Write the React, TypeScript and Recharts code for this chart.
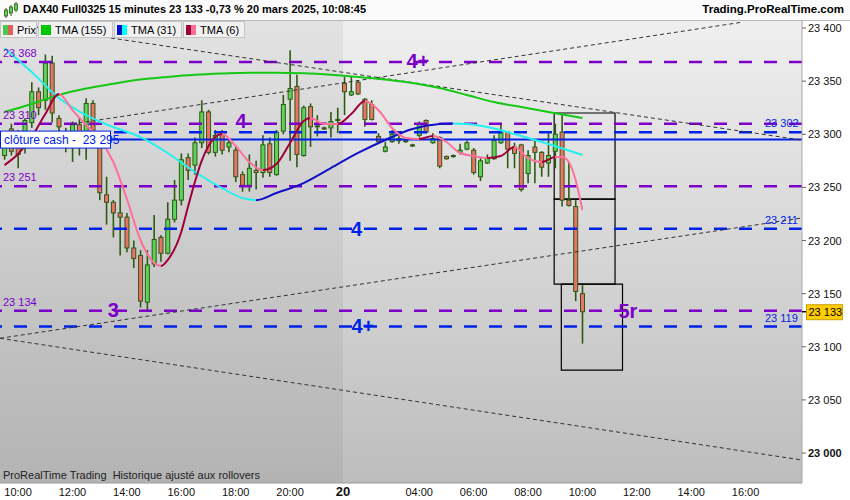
import React from 'react';
import { ComposedChart, Bar, Line, XAxis, YAxis, CartesianGrid, ReferenceLine, ReferenceArea, ReferenceDot } from 'recharts';

const FONT = '"Liberation Sans", Arial, sans-serif';
const PURPLE = '#7d00c8';
const BLUE = '#0022e8';
const WICK = '#2d5a12';
const UP = '#5dd35a';
const DOWN = '#ea7268';

// bar 0 = 10:00 on the 19th, first visible bar is 09:30
const FIRST_BAR = -2;

const opens = [
  23280, 23305, 23295, 23288, 23311, 23340, 23332, 23367, 23315, 23301,
  23298, 23309, 23295, 23329, 23290, 23243, 23236, 23226, 23222, 23193,
  23186, 23142, 23178, 23203, 23188, 23220, 23238, 23278, 23271, 23292,
  23321, 23283, 23300, 23288, 23285, 23262, 23252, 23266, 23264, 23291,
  23262, 23303, 23333, 23345, 23280, 23326, 23307, 23306, 23306, 23313,
  23348, 23337, 23349, 23333, 23328, 23298, 23284, 23293, 23296, 23294,
  23290, 23299, 23313, 23292, 23297, 23279, 23279, 23283, 23286, 23285,
  23260, 23273, 23277, 23292, 23302, 23288, 23290, 23263, 23288, 23283,
  23273, 23284, 23302, 23238, 23232, 23150,
];
const highs = [
  23302, 23310, 23304, 23315, 23349, 23344, 23375, 23374, 23318, 23306,
  23312, 23315, 23334, 23332, 23293, 23260, 23238, 23250, 23226, 23200,
  23191, 23191, 23224, 23205, 23236, 23257, 23282, 23282, 23297, 23332,
  23323, 23304, 23304, 23295, 23288, 23265, 23281, 23275, 23299, 23297,
  23304, 23337, 23379, 23356, 23327, 23329, 23318, 23307, 23321, 23325,
  23354, 23355, 23351, 23334, 23332, 23301, 23293, 23304, 23300, 23295,
  23291, 23312, 23314, 23301, 23298, 23280, 23281, 23291, 23294, 23287,
  23278, 23281, 23299, 23310, 23303, 23292, 23291, 23285, 23295, 23284,
  23301, 23310, 23319, 23274, 23238, 23158,
];
const lows = [
  23276, 23280, 23268, 23282, 23306, 23318, 23323, 23311, 23297, 23283,
  23274, 23280, 23276, 23293, 23238, 23215, 23203, 23186, 23189, 23174,
  23137, 23134, 23175, 23180, 23187, 23217, 23233, 23257, 23262, 23287,
  23281, 23279, 23281, 23283, 23255, 23246, 23246, 23248, 23259, 23260,
  23261, 23300, 23275, 23269, 23279, 23288, 23298, 23304, 23297, 23301,
  23318, 23336, 23337, 23307, 23313, 23292, 23283, 23292, 23291, 23292,
  23288, 23297, 23301, 23291, 23268, 23276, 23278, 23281, 23285, 23262,
  23256, 23272, 23276, 23291, 23268, 23268, 23246, 23254, 23254, 23260,
  23260, 23268, 23232, 23232, 23143, 23103,
];
const closes = [
  23295, 23284, 23281, 23313, 23340, 23325, 23367, 23320, 23307, 23290,
  23309, 23297, 23329, 23295, 23245, 23236, 23226, 23222, 23193, 23183,
  23143, 23177, 23201, 23188, 23220, 23238, 23276, 23266, 23292, 23321,
  23283, 23299, 23285, 23292, 23260, 23252, 23268, 23264, 23290, 23264,
  23302, 23328, 23343, 23281, 23325, 23307, 23308, 23305, 23312, 23314,
  23340, 23340, 23338, 23314, 23314, 23293, 23288, 23300, 23294, 23293,
  23289, 23310, 23302, 23296, 23270, 23277, 23280, 23285, 23292, 23264,
  23275, 23278, 23294, 23302, 23286, 23282, 23248, 23280, 23283, 23269,
  23280, 23300, 23238, 23233, 23152, 23133,
];

// moving averages as [bar, value]
const tma155 = [
  [-2, 23321], [2, 23328.5], [6, 23337], [10, 23343], [14, 23347.5], [18, 23351.5],
  [22, 23354], [26, 23356], [30, 23357.2], [34, 23358], [38, 23358], [42, 23357.4],
  [46, 23356], [50, 23354], [54, 23351.5], [58, 23348.3], [62, 23343.5], [66, 23337],
  [70, 23330.3], [74, 23325.6], [78, 23321], [83, 23315.3],
];
const tma31 = [
  [-2, 23381], [2, 23358.6], [6, 23334.1], [10, 23318.1], [14, 23306.8], [18, 23297.4],
  [22, 23282.4], [26, 23264.5], [30, 23249.4], [33, 23240], [35, 23238], [38, 23244.7],
  [42, 23254.1], [46, 23268.2], [50, 23282.4], [54, 23294.6], [58, 23305], [62, 23309.6],
  [64, 23310.1], [66, 23309.6], [70, 23305.4], [74, 23298.3], [78, 23290.8], [83, 23280.5],
];
const tma6 = [
  [-2, 23271], [0, 23281.4], [2, 23297.4], [4, 23319], [6, 23338], [8, 23322.8],
  [10, 23308.7], [12, 23295.5], [14, 23273.9], [16, 23239.1], [18, 23200.5], [20, 23178.8],
  [21, 23176], [22, 23181.6], [24, 23208], [25, 23232], [26, 23255], [27, 23275],
  [28, 23289], [30, 23300.2], [32, 23289], [34, 23273.9], [36, 23266.3], [38, 23272],
  [40, 23291.8], [42, 23312.5], [43, 23315.3], [45, 23309.6], [47, 23309.6], [49, 23319],
  [51, 23331.3], [53, 23322.8], [55, 23305.9], [57, 23296.5], [59, 23295.5], [61, 23298.3],
  [63, 23292.7], [65, 23282.4], [67, 23279.5], [69, 23277.6], [71, 23279.5], [73, 23288],
  [75, 23277.6], [77, 23273.9], [79, 23278.6], [80, 23278.6], [81, 23273.9], [82, 23257],
  [83, 23228.7],
];

const timeTicks = [0, 8, 16, 24, 32, 40, 47.8, 59, 67, 75, 83, 91, 99, 107];
const timeLabels = ['10:00', '12:00', '14:00', '16:00', '18:00', '20:00', '20', '04:00', '06:00', '08:00', '10:00', '12:00', '14:00', '16:00'];
const priceTicks = [23000, 23050, 23100, 23150, 23200, 23250, 23300, 23350, 23400];

const purpleLevels = [23368, 23310, 23251, 23134];
const blueLevels = [23302, 23211, 23119];
const cashClose = 23295;
const lastPrice = 23133;

// trend lines [x1, y1, x2, y2]
const trendLines = [
  [-2.66, 23406, 115.3, 23294.5],
  [7.9, 23309.6, 106.2, 23405.2],
  [-2.66, 23108, 115.3, 23221.2],
  [-2.66, 23108, 115.3, 22993.4],
];
// boxes [x1, x2, yTop, yBottom]
const boxes = [
  [78.85, 87.8, 23320, 23239],
  [78.85, 87.8, 23239, 23159],
  [79.9, 88.9, 23159, 23078],
];
// annotations [text, bar, price, colour]
const notes: [string, number, number, string][] = [
  ['4+', 58.8, 23369, PURPLE],
  ['4', 32.8, 23312.5, PURPLE],
  ['4', 49.8, 23211, BLUE],
  ['3', 14.0, 23134.6, PURPLE],
  ['4+', 50.7, 23119.5, BLUE],
  ['5r', 89.7, 23133.6, PURPLE],
];

const X_DOMAIN = [-2.66, 115.3];
const Y_DOMAIN = [22971.8, 23406.6];
const DAY_BREAK = 47.8;

const fmt = (v: number) => String(v).replace(/\B(?=(\d{3})+(?!\d))/g, ' ');

const rows: any[] = opens.map((o, k) => ({
  i: FIRST_BAR + k,
  open: o,
  high: highs[k],
  low: lows[k],
  close: closes[k],
}));
const put = (pts: number[][], key: string) => pts.forEach(([b, v]) => { rows[b - FIRST_BAR][key] = v; });
put(tma155, 'm155');
put(tma31, 'm31');
put(tma6, 'm6');

function toneStops(points: number[][], rise: string, fall: string) {
  const a = points[0][0];
  const b = points[points.length - 1][0];
  const out: { o: number; c: string }[] = [];
  for (let k = 0; k < points.length - 1; k++) {
    const c = points[k + 1][1] > points[k][1] ? rise : fall;
    out.push({ o: (points[k][0] - a) / (b - a), c }, { o: (points[k + 1][0] - a) / (b - a), c });
  }
  return out;
}

const Candle = (props: any) => {
  const { x, y, width, height, payload } = props;
  if (!payload || x == null || y == null) return null;
  const top = Math.min(y, y + height);
  const h = Math.abs(height);
  const { open, high, low, close } = payload;
  const span = high - low || 1;
  const toY = (v: number) => top + ((high - v) / span) * h;
  const cx = x + width / 2;
  const bTop = toY(Math.max(open, close));
  const bBot = toY(Math.min(open, close));
  return (
    <g>
      <line x1={cx} x2={cx} y1={top} y2={top + h} stroke={WICK} strokeWidth={1.6} />
      <rect x={cx - 2} y={bTop} width={4} height={Math.max(bBot - bTop, 1)} fill={close >= open ? UP : DOWN} stroke={WICK} strokeWidth={1} />
    </g>
  );
};

const TimeTick = (props: any) => {
  const { x, y, payload } = props;
  const k = timeTicks.indexOf(payload.value);
  const label = timeLabels[k] ?? '';
  const bold = label === '20';
  return (
    <text x={x} y={y + 13} textAnchor="middle" fontSize={bold ? 13 : 11} fontWeight={bold ? 'bold' : 'normal'} fontFamily={FONT} fill="#111">
      {label}
    </text>
  );
};

const PriceTick = (props: any) => {
  const { x, y, payload } = props;
  return (
    <text x={x} y={y + 4} textAnchor="start" fontSize={11} fontWeight={payload.value === 23000 ? 'bold' : 'normal'} fontFamily={FONT} fill="#111">
      {fmt(payload.value)}
    </text>
  );
};

const levelText = (text: string, color: string, side: 'left' | 'right') => (p: any) => (
  <text x={side === 'left' ? p.cx + 3 : p.cx - 37} y={p.cy - 5} fontSize={11} fontFamily={FONT} fill={color}>{text}</text>
);

const Swatch = ({ a, b }: { a: string; b: string }) => (
  <span style={{ display: 'inline-block', width: 10, height: 10, marginRight: 4, background: `linear-gradient(90deg, ${a} 50%, ${b} 50%)`, verticalAlign: -1 }} />
);

const legendItems = [
  { label: 'Prix', a: '#4cc94c', b: '#e0605c', w: 37 },
  { label: 'TMA (155)', a: '#00c800', b: '#00c800', w: 75 },
  { label: 'TMA (31)', a: '#0010d0', b: '#00ffff', w: 68 },
  { label: 'TMA (6)', a: '#a0003a', b: '#ff6f9a', w: 62 },
];

export default function App() {
  const stops31 = toneStops(tma31, '#1010c8', '#22f0f0');
  const stops6 = toneStops(tma6, '#a0003a', '#ff6f9a');
  return (
    <div style={{ position: 'absolute', left: 0, top: 0, width: 850, height: 500, background: '#fff', fontFamily: FONT, overflow: 'hidden' }}>
      <ComposedChart width={850} height={500} data={rows} margin={{ top: 21, right: 0, bottom: 0, left: 0 }}>
        <defs>
          <linearGradient id="plotBg" x1="0" y1="0" x2="0" y2="1">
            <stop offset="0%" stopColor="#efefef" />
            <stop offset="100%" stopColor="#bdbdbd" />
          </linearGradient>
          <linearGradient id="g31" x1="0" y1="0" x2="1" y2="0">
            {stops31.map((s, k) => <stop key={k} offset={s.o} stopColor={s.c} />)}
          </linearGradient>
          <linearGradient id="g6" x1="0" y1="0" x2="1" y2="0">
            {stops6.map((s, k) => <stop key={k} offset={s.o} stopColor={s.c} />)}
          </linearGradient>
        </defs>
        <CartesianGrid horizontal={false} vertical={false} fill="url(#plotBg)" fillOpacity={1} />
        <ReferenceArea x1={X_DOMAIN[0]} x2={DAY_BREAK} y1={Y_DOMAIN[0]} y2={Y_DOMAIN[1]} fill="#000" fillOpacity={0.05} stroke="none" zIndex={-90} />
        <XAxis dataKey="i" type="number" domain={X_DOMAIN} allowDataOverflow ticks={timeTicks} interval={0} tick={<TimeTick />} tickLine={false} tickSize={0} tickMargin={0} axisLine={{ stroke: '#9a9a9a' }} height={17} />
        <YAxis orientation="right" type="number" domain={Y_DOMAIN} allowDataOverflow ticks={priceTicks} interval={0} width={48} tickSize={4} tickMargin={2} tick={<PriceTick />} axisLine={{ stroke: '#a8a8a8' }} tickLine={{ stroke: '#666' }} />

        {purpleLevels.map((v) => (
          <ReferenceLine key={'p' + v} y={v} stroke={PURPLE} strokeWidth={2.5} strokeDasharray="13 12" />
        ))}
        {blueLevels.map((v) => (
          <ReferenceLine key={'b' + v} y={v} stroke={BLUE} strokeWidth={2.5} strokeDasharray="13 12" />
        ))}
        <ReferenceLine y={cashClose} stroke={BLUE} strokeWidth={2} />
        {trendLines.map((t, k) => (
          <ReferenceLine key={'t' + k} segment={[{ x: t[0], y: t[1] }, { x: t[2], y: t[3] }]} stroke="#333" strokeWidth={1} strokeDasharray="4 3" ifOverflow="visible" />
        ))}
        {boxes.map((b, k) => (
          <ReferenceArea key={'box' + k} x1={b[0]} x2={b[1]} y1={b[3]} y2={b[2]} fill="none" fillOpacity={0} stroke="#000" strokeWidth={1.2} />
        ))}

        <Bar dataKey={(d: any) => [d.low, d.high]} barSize={5} shape={<Candle />} isAnimationActive={false} />
        <Line dataKey="m155" type="monotone" stroke="#14c814" strokeWidth={2} dot={false} connectNulls isAnimationActive={false} />
        <Line dataKey="m31" type="monotone" stroke="url(#g31)" strokeWidth={2} dot={false} connectNulls isAnimationActive={false} />
        <Line dataKey="m6" type="monotone" stroke="url(#g6)" strokeWidth={2} dot={false} connectNulls isAnimationActive={false} />

        {purpleLevels.map((v) => (
          <ReferenceDot key={'pl' + v} x={X_DOMAIN[0]} y={v} r={0} ifOverflow="visible" shape={levelText(fmt(v), PURPLE, 'left')} />
        ))}
        {blueLevels.map((v) => (
          <ReferenceDot key={'bl' + v} x={X_DOMAIN[1]} y={v} r={0} ifOverflow="visible" shape={levelText(fmt(v), BLUE, 'right')} />
        ))}
        <ReferenceDot
          x={X_DOMAIN[0]}
          y={cashClose}
          r={0}
          ifOverflow="visible"
          shape={(p: any) => (
            <g>
              <rect x={p.cx + 0.5} y={p.cy - 8.5} width={110} height={17} fill="#fff" stroke={BLUE} strokeWidth={1} />
              <text x={p.cx + 4} y={p.cy + 4.5} fontSize={12} fontFamily={FONT} fill={BLUE} xmlSpace="preserve">{'clôture cash -  ' + fmt(cashClose)}</text>
            </g>
          )}
        />
        {notes.map(([t, b, v, c], k) => (
          <ReferenceDot
            key={'n' + k}
            x={b}
            y={v}
            r={0}
            ifOverflow="visible"
            shape={(p: any) => (
              <text x={p.cx} y={p.cy + 7} textAnchor="middle" fontSize={20} fontWeight="bold" fontFamily={FONT} fill={c}>{t}</text>
            )}
          />
        ))}
        <ReferenceDot
          x={X_DOMAIN[1]}
          y={lastPrice}
          r={0}
          ifOverflow="visible"
          shape={(p: any) => (
            <g>
              <line x1={p.cx} x2={p.cx + 4} y1={p.cy} y2={p.cy} stroke="#000" strokeWidth={1.5} />
              <rect x={p.cx + 4.5} y={p.cy - 7} width={36} height={15} fill="#ffcc00" stroke="#c8a200" strokeWidth={1} />
              <text x={p.cx + 6.5} y={p.cy + 4.5} fontSize={11} fontFamily={FONT} fill="#000">{fmt(lastPrice)}</text>
            </g>
          )}
        />
      </ComposedChart>

      <div style={{ position: 'absolute', left: 0, top: 0, width: 850, height: 20, background: '#fbfbfb', borderBottom: '1px solid #b8b8b8' }}>
        <svg width={16} height={18} style={{ position: 'absolute', left: 3, top: 2 }}>
          <line x1={3} x2={3} y1={6} y2={16} stroke="#2d5a12" />
          <rect x={1.5} y={8} width={3} height={6} fill="#5dd35a" stroke="#2d5a12" strokeWidth={0.8} />
          <line x1={8} x2={8} y1={3} y2={14} stroke="#2d5a12" />
          <rect x={6.5} y={5} width={3} height={6} fill="#5dd35a" stroke="#2d5a12" strokeWidth={0.8} />
          <line x1={13} x2={13} y1={0} y2={10} stroke="#2d5a12" />
          <rect x={11.5} y={2} width={3} height={6} fill="#5dd35a" stroke="#2d5a12" strokeWidth={0.8} />
        </svg>
        <span style={{ position: 'absolute', left: 23, top: 3, fontSize: 11, fontWeight: 'bold', color: '#000', whiteSpace: 'pre' }}>
          DAX40 Full0325 15 minutes 23 133 -0,73 % 20 mars 2025, 10:08:45
        </span>
        <span style={{ position: 'absolute', right: 6, top: 3, fontSize: 11.5, fontWeight: 'bold', color: '#000' }}>Trading.ProRealTime.com</span>
      </div>

      <div style={{ position: 'absolute', left: 0, top: 21, height: 18, display: 'flex' }}>
        {legendItems.map((it) => (
          <div key={it.label} style={{ width: it.w, height: 17, boxSizing: 'border-box', background: '#f1f1f1', border: '1px solid #c4c4c4', marginRight: 1, paddingLeft: 2, fontSize: 11, lineHeight: '16px', color: '#000', whiteSpace: 'nowrap' }}>
            <Swatch a={it.a} b={it.b} />
            {it.label}
          </div>
        ))}
      </div>

      <div style={{ position: 'absolute', left: 3, top: 469, fontSize: 11, color: '#222', whiteSpace: 'pre' }}>ProRealTime Trading  Historique ajusté aux rollovers</div>
    </div>
  );
}
